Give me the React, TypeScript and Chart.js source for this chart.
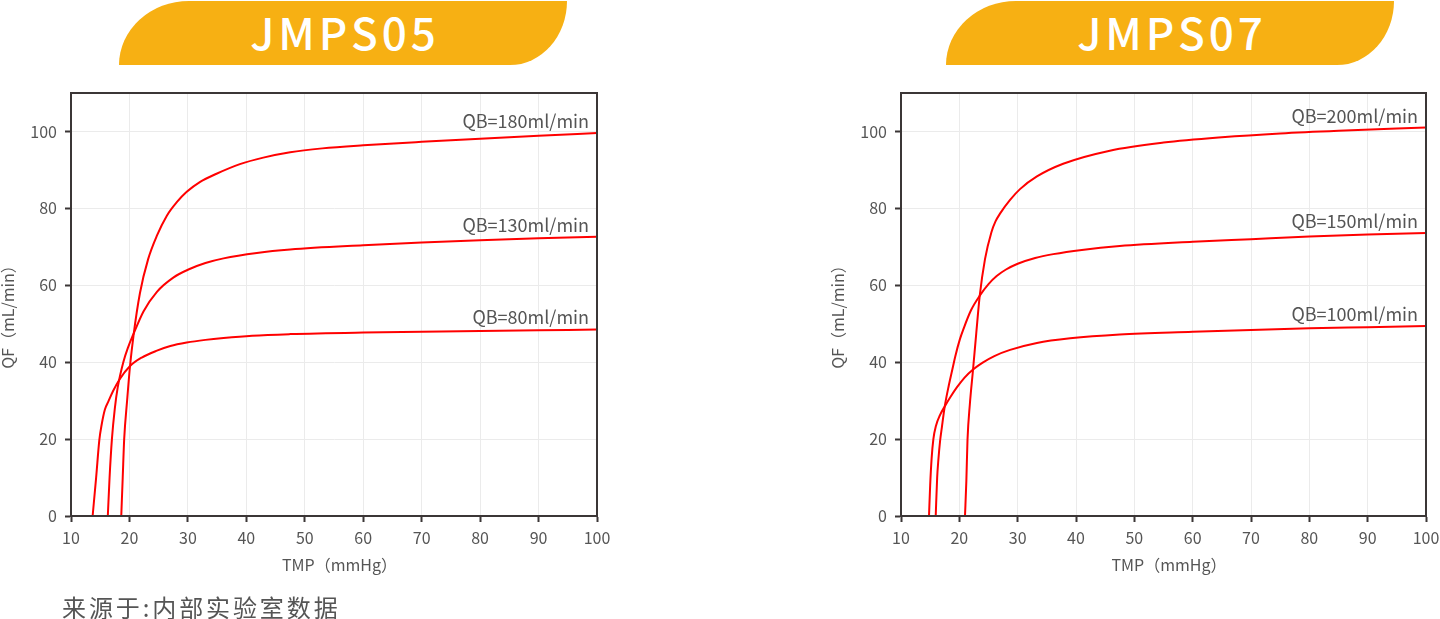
import React, { useEffect, useRef } from "react";
import { Chart, registerables } from "chart.js";

Chart.register(...registerables);

const FONT = '"Noto Sans CJK SC", "Noto Sans", sans-serif';
const TEXT = "#555555";
const AXIS = "#3b3636";
const GRID = "#ebebeb";
const RED = "#ff0000";
const BANNER = "#f7b013";

// Shared axis settings
const X_MIN = 10;
const X_MAX = 100;
const X_STEP = 10;
const Y_MIN = 0;
const Y_MAX = 110;
const Y_STEP = 20;
const X_TITLE = "TMP（mmHg）";
const Y_TITLE = "QF（mL/min）";

// ---------- JMPS05 ----------
const A_TITLE = "JMPS05";
const A_LABELS = ["QB=180ml/min", "QB=130ml/min", "QB=80ml/min"];
const A180_X = [18.6, 18.85, 19.1, 19.6, 20.1, 20.7, 21.8, 23.2, 24.7, 26.4, 28.1, 29.8, 32.1, 34.9, 38.9, 42.9, 47.5, 53, 60, 70, 80, 90, 100];
const A180_Y = [0, 10, 20, 30, 39, 47, 58, 66.8, 72.9, 78.1, 81.6, 84.3, 86.9, 89.0, 91.5, 93.2, 94.6, 95.6, 96.4, 97.3, 98.1, 98.9, 99.6];
const A130_X = [16.3, 16.6, 17.0, 17.5, 18.0, 18.95, 19.8, 20.6, 22.4, 24.7, 27.5, 30.4, 33, 36.1, 41.8, 47.5, 60, 70, 80, 90, 100];
const A130_Y = [0, 10, 20, 28, 33.5, 40, 44, 47, 53.2, 58.3, 62.0, 64.3, 65.8, 67.0, 68.4, 69.3, 70.4, 71.1, 71.7, 72.2, 72.6];
const A80_X = [13.7, 14.3, 14.85, 15.25, 15.8, 16.4, 17.2, 18.3, 20.1, 22.1, 24.7, 27, 29.8, 33, 36.1, 41, 47.5, 60, 70, 80, 90, 100];
const A80_Y = [0, 10, 19.8, 23.8, 27.7, 29.8, 32.5, 35.5, 39, 41.2, 43.0, 44.2, 45.1, 45.8, 46.3, 46.9, 47.3, 47.7, 47.9, 48.1, 48.3, 48.5];

// ---------- JMPS07 ----------
const B_TITLE = "JMPS07";
const B_LABELS = ["QB=200ml/min", "QB=150ml/min", "QB=100ml/min"];
const B200_X = [20.97, 21.2, 21.4, 21.8, 22.35, 22.9, 23.5, 24.4, 25.5, 26.2, 27.0, 28.7, 30.4, 33.3, 37.8, 45.8, 55, 65, 75, 85, 100];
const B200_Y = [0, 9, 19.8, 29, 38.1, 47.5, 57.3, 66.8, 73.8, 76.6, 78.7, 82.2, 85.0, 88.3, 91.6, 95.0, 97.1, 98.5, 99.5, 100.2, 101];
const B150_X = [15.95, 16.2, 16.4, 16.7, 17.0, 17.5, 18.2, 18.8, 19.3, 20.1, 20.7, 22, 23.5, 25, 26.4, 28, 30, 33, 36.1, 41, 47.5, 60, 70, 80, 90, 100];
const B150_Y = [0, 10, 14.5, 19.5, 23, 28.5, 34, 38.1, 41.5, 46, 48.6, 53.5, 57.3, 60.3, 62.4, 64.1, 65.6, 67.1, 68.1, 69.2, 70.2, 71.3, 72, 72.7, 73.2, 73.6];
const B100_X = [14.8, 15.0, 15.25, 15.55, 16.0, 16.7, 17.5, 18.5, 19.6, 20.9, 22.35, 24, 26, 28.7, 33.3, 39, 47.5, 60, 70, 80, 90, 100];
const B100_Y = [0, 8, 15, 20, 23.5, 26.3, 28.5, 31, 33.5, 36, 38.1, 39.9, 41.6, 43.2, 45.0, 46.2, 47.2, 47.9, 48.4, 48.8, 49.1, 49.4];

const FOOTER = "来源于:内部实验室数据";

const pts = (xs: number[], ys: number[]) => xs.map((x, i) => ({ x, y: ys[i] }));

const frameAndLabels = {
  id: "frameAndLabels",
  afterDatasetsDraw(chart: any) {
    const { ctx, chartArea } = chart;
    ctx.save();
    ctx.strokeStyle = AXIS;
    ctx.lineWidth = 2;
    ctx.strokeRect(chartArea.left, chartArea.top, chartArea.right - chartArea.left, chartArea.bottom - chartArea.top);
    ctx.font = `18px ${FONT}`;
    ctx.fillStyle = TEXT;
    ctx.textAlign = "right";
    ctx.textBaseline = "alphabetic";
    chart.data.datasets.forEach((ds: any, i: number) => {
      const meta = chart.getDatasetMeta(i);
      const last = meta.data[meta.data.length - 1];
      ctx.fillText(ds.label, chartArea.right - 8, last.y - 5);
    });

    // axis titles
    ctx.font = `16px ${FONT}`;
    ctx.textAlign = "left";
    const mx = ctx.measureText(X_TITLE);
    const cx = (chartArea.left + chartArea.right) / 2;
    ctx.fillText(X_TITLE, cx - (mx.actualBoundingBoxRight - mx.actualBoundingBoxLeft) / 2, chartArea.bottom + 55);

    const my = ctx.measureText(Y_TITLE);
    const cy = (chartArea.top + chartArea.bottom) / 2 + 14;
    ctx.translate(14, cy);
    ctx.rotate(-Math.PI / 2);
    ctx.fillText(Y_TITLE, -(my.actualBoundingBoxRight - my.actualBoundingBoxLeft) / 2, 0);
    ctx.restore();
  },
};

function LineChart({ series, labels, rightPad, width }: { series: { x: number; y: number }[][]; labels: string[]; rightPad: number; width: number }) {
  const ref = useRef<HTMLCanvasElement>(null);
  useEffect(() => {
    if (!ref.current) return;
    const chart = new Chart(ref.current, {
      type: "line",
      data: {
        datasets: series.map((data, i) => ({
          label: labels[i],
          data,
          borderColor: RED,
          borderWidth: 2,
          pointRadius: 0,
          fill: false,
          cubicInterpolationMode: "monotone" as const,
        })),
      },
      options: {
        responsive: false,
        animation: false,
        layout: { padding: { left: 0, right: rightPad, top: 13, bottom: 0 } },
        plugins: { legend: { display: false }, tooltip: { enabled: false } },
        scales: {
          x: {
            type: "linear",
            min: X_MIN,
            max: X_MAX,
            ticks: { stepSize: X_STEP, color: TEXT, font: { size: 16, family: FONT }, padding: 6, maxRotation: 0, includeBounds: false },
            grid: { color: GRID, tickColor: AXIS, tickLength: 6, lineWidth: 1, tickWidth: 2 },
            border: { color: AXIS, width: 2 },
            afterFit: (s: any) => {
              s.height = 74;
              s.paddingLeft = 0;
              s.paddingRight = 0;
            },
          },
          y: {
            type: "linear",
            min: Y_MIN,
            max: Y_MAX,
            ticks: { stepSize: Y_STEP, color: TEXT, font: { size: 16, family: FONT }, padding: 8, includeBounds: false },
            grid: { color: GRID, tickColor: AXIS, tickLength: 6, lineWidth: 1, tickWidth: 2 },
            border: { color: AXIS, width: 2 },
            afterFit: (s: any) => {
              s.width = 71;
              s.paddingTop = 0;
              s.paddingBottom = 0;
            },
          },
        },
      },
      plugins: [frameAndLabels],
    } as any);
    return () => chart.destroy();
  }, []);
  return <canvas ref={ref} width={width} height={510} style={{ width, height: 510, display: "block" }} />;
}

function Banner({ left, text }: { left: number; text: string }) {
  return (
    <div
      style={{
        position: "absolute",
        left,
        top: 1,
        width: 448,
        height: 64,
        background: BANNER,
        borderRadius: "70px 0 57px 0 / 64px 0 64px 0",
        display: "flex",
        alignItems: "center",
        justifyContent: "center",
        color: "#ffffff",
        fontFamily: FONT,
        fontWeight: 500,
        fontSize: 44,
        letterSpacing: 4,
        paddingLeft: 4,
        paddingBottom: 4,
        boxSizing: "border-box",
        lineHeight: 1,
      }}
    >
      {text}
    </div>
  );
}

export default function App() {
  return (
    <div style={{ position: "absolute", left: 0, top: 0, width: 1440, height: 619, overflow: "hidden", background: "#fff" }}>
      <Banner left={119} text={A_TITLE} />
      <Banner left={946} text={B_TITLE} />
      <div style={{ position: "absolute", left: 0, top: 80 }}>
        <LineChart series={[pts(A180_X, A180_Y), pts(A130_X, A130_Y), pts(A80_X, A80_Y)]} labels={A_LABELS} rightPad={23} width={620} />
      </div>
      <div style={{ position: "absolute", left: 830, top: 80 }}>
        <LineChart series={[pts(B200_X, B200_Y), pts(B150_X, B150_Y), pts(B100_X, B100_Y)]} labels={B_LABELS} rightPad={14} width={610} />
      </div>
      <div style={{ position: "absolute", left: 62, top: 595, fontFamily: FONT, fontSize: 24, letterSpacing: 2.9, lineHeight: 1, color: TEXT, whiteSpace: "nowrap" }}>{FOOTER}</div>
    </div>
  );
}
